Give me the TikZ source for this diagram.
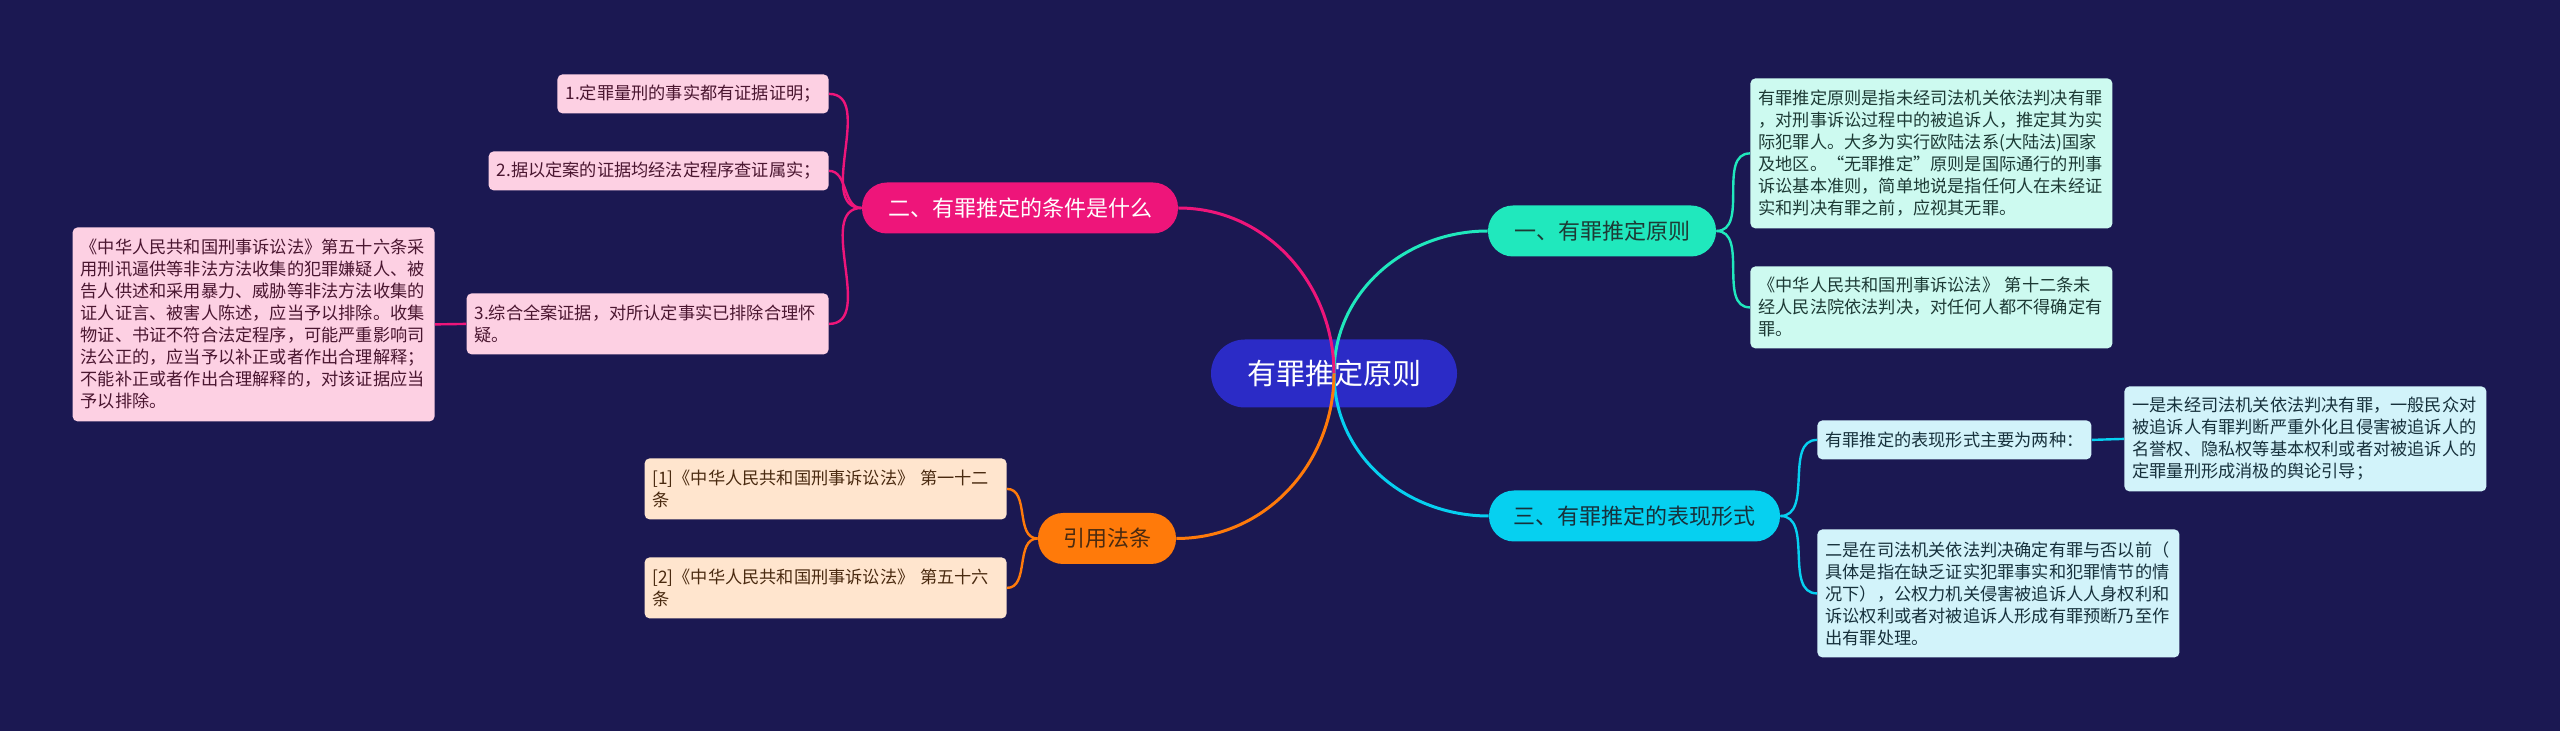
\documentclass[tikz,border=0pt]{standalone}
\usepackage{fontspec}
\setmainfont{Noto Sans CJK SC}
\usepackage{tikz}
\usetikzlibrary{calc}
\definecolor{bgnavy}{HTML}{1B1852}
\definecolor{rootblue}{HTML}{2B2BC6}
\definecolor{teal}{HTML}{20E8BD}
\definecolor{magenta}{HTML}{EE157A}
\definecolor{cyan}{HTML}{06D0F0}
\definecolor{orange}{HTML}{FF7A0A}
\definecolor{tealleaf}{HTML}{CDFAF0}
\definecolor{pinkleaf}{HTML}{FDD0E3}
\definecolor{cyanleaf}{HTML}{D2F3FA}
\definecolor{orangeleaf}{HTML}{FFE5CE}
\definecolor{inkteal}{HTML}{1D3A35}
\definecolor{inkpink}{HTML}{4A1630}
\definecolor{inkcyan}{HTML}{17313C}
\definecolor{inkorange}{HTML}{4A2A10}

\begin{document}
\begin{tikzpicture}[x=0.5pt,y=-0.5pt,
 root/.style={fill=rootblue,text=white,rounded corners=17pt,minimum width=123pt,minimum height=34pt,font=\fontsize{14.5}{16}\selectfont},
 branch/.style={rounded corners=12.5pt,minimum height=25.5pt,inner sep=0pt,font=\fontsize{11}{13}\selectfont},
 leaf/.style={rounded corners=2.5pt,align=left,inner xsep=4pt,inner ysep=2pt,font=\fontsize{8.6}{11}\selectfont},
 wide/.style={leaf,text width=173pt},
 link/.style={line width=1.5pt},
 twig/.style={line width=1.2pt}]
\fill[bgnavy] (0,0) rectangle (2560,731);
% centre and main branches
\node[root] (root) at (1334,373.5){有罪推定原则};
\node[branch,fill=teal,text=inkteal,minimum width=114pt] (yi) at (1602,231){一、有罪推定原则};
\node[branch,fill=magenta,text=white,minimum width=158pt] (er) at (1020,208){二、有罪推定的条件是什么};
\node[branch,fill=cyan,text=inkcyan,minimum width=145.5pt] (san) at (1634.5,516){三、有罪推定的表现形式};
\node[branch,fill=orange,text=inkorange,minimum width=69pt] (yin) at (1107,538.5){引用法条};
% teal leaves
\node[wide,fill=tealleaf,text=inkteal,anchor=north west,minimum height=75pt] (dingyi) at (1750,78){有罪推定原则是指未经司法机关依法判决有罪\\，对刑事诉讼过程中的被追诉人，推定其为实\\际犯罪人。大多为实行欧陆法系(大陆法)国家\\及地区。“无罪推定”原则是国际通行的刑事\\诉讼基本准则，简单地说是指任何人在未经证\\实和判决有罪之前，应视其无罪。};
\node[wide,fill=tealleaf,text=inkteal,anchor=north west,minimum height=41pt] (shier) at (1750,266){《中华人民共和国刑事诉讼法》 第十二条未\\经人民法院依法判决，对任何人都不得确定有\\罪。};
% pink leaves
\node[leaf,fill=pinkleaf,text=inkpink,anchor=north east,minimum height=19.5pt] (tiao1) at (829,74){1.定罪量刑的事实都有证据证明；};
\node[leaf,fill=pinkleaf,text=inkpink,anchor=north east,minimum height=19.5pt] (tiao2) at (829,151){2.据以定案的证据均经法定程序查证属实；};
\node[wide,fill=pinkleaf,text=inkpink,anchor=north east,minimum height=30.5pt] (tiao3) at (829,293){3.综合全案证据，对所认定事实已排除合理怀\\疑。};
\node[wide,fill=pinkleaf,text=inkpink,anchor=north east,minimum height=97pt] (wushiliu) at (435,227){《中华人民共和国刑事诉讼法》第五十六条采\\用刑讯逼供等非法方法收集的犯罪嫌疑人、被\\告人供述和采用暴力、威胁等非法方法收集的\\证人证言、被害人陈述，应当予以排除。收集\\物证、书证不符合法定程序，可能严重影响司\\法公正的，应当予以补正或者作出合理解释；\\不能补正或者作出合理解释的，对该证据应当\\予以排除。};
% cyan leaves
\node[leaf,fill=cyanleaf,text=inkcyan,anchor=north west,minimum height=19.5pt] (liangzhong) at (1817,420){有罪推定的表现形式主要为两种：};
\node[wide,fill=cyanleaf,text=inkcyan,anchor=north west,minimum height=52.5pt] (xingshi1) at (2124,386){一是未经司法机关依法判决有罪，一般民众对\\被追诉人有罪判断严重外化且侵害被追诉人的\\名誉权、隐私权等基本权利或者对被追诉人的\\定罪量刑形成消极的舆论引导；};
\node[wide,fill=cyanleaf,text=inkcyan,anchor=north west,minimum height=64pt] (xingshi2) at (1817,529){二是在司法机关依法判决确定有罪与否以前（\\具体是指在缺乏证实犯罪事实和犯罪情节的情\\况下），公权力机关侵害被追诉人人身权利和\\诉讼权利或者对被追诉人形成有罪预断乃至作\\出有罪处理。};
% orange leaves
\node[wide,fill=orangeleaf,text=inkorange,anchor=north east,minimum height=30.5pt] (ref1) at (1007,458){[1]《中华人民共和国刑事诉讼法》 第一十二\\条};
\node[wide,fill=orangeleaf,text=inkorange,anchor=north east,minimum height=30.5pt] (ref2) at (1007,557){[2]《中华人民共和国刑事诉讼法》 第五十六\\条};
% connectors
\draw[link,teal] (root.center) to[out=90,in=180] (yi.west);
\draw[link,magenta] (root.center) to[out=90,in=0] (er.east);
\draw[link,cyan] (root.center) to[out=-90,in=180] (san.west);
\draw[link,orange] (root.center) to[out=-90,in=0] (yin.east);
\foreach \n in {dingyi,shier}{\draw[twig,teal] (yi.east) to[out=0,in=180] (\n.west);}
\foreach \n in {tiao1,tiao2,tiao3}{\draw[twig,magenta] (er.west) to[out=180,in=0] (\n.east);}
\draw[twig,magenta] (tiao3.west)--(wushiliu.east);
\foreach \n in {liangzhong,xingshi2}{\draw[twig,cyan] (san.east) to[out=0,in=180] (\n.west);}
\draw[twig,cyan] (liangzhong.east)--(xingshi1.west);
\foreach \n in {ref1,ref2}{\draw[twig,orange] (yin.west) to[out=180,in=0] (\n.east);}
\end{tikzpicture}
\end{document}
